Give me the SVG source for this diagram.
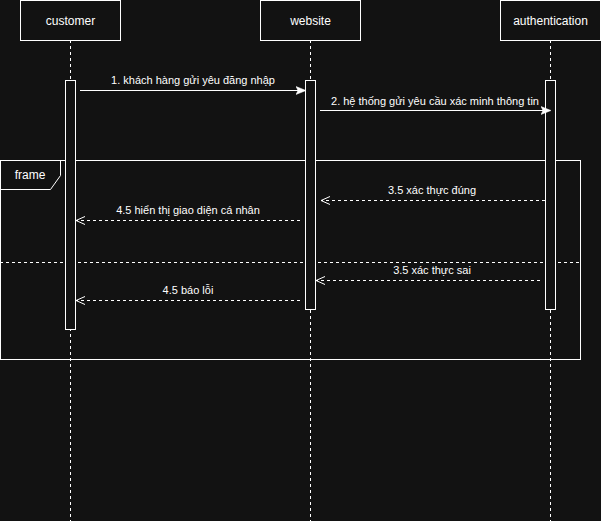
<svg xmlns="http://www.w3.org/2000/svg" width="601" height="521" viewBox="0 0 601 521">
<defs>
<style>
.bg{fill:#121212}
.box{fill:#121212;stroke:#ffffff;stroke-width:1}
.life{stroke:#ffffff;stroke-width:1;stroke-dasharray:3 3;fill:none}
.act{fill:#121212;stroke:#ffffff;stroke-width:1}
.msg{stroke:#ffffff;stroke-width:1;fill:none}
.ret{stroke:#ffffff;stroke-width:1;fill:none;stroke-dasharray:3 3}
.t{font-family:"Liberation Sans",Arial,sans-serif;font-size:12px;fill:#ffffff;text-anchor:middle}
.m{font-family:"Liberation Sans",Arial,sans-serif;font-size:11px;fill:#ffffff;text-anchor:middle}
</style>
<marker id="fill" viewBox="0 0 10 10" refX="9" refY="5" markerWidth="10" markerHeight="10" markerUnits="userSpaceOnUse" orient="auto">
<path d="M0,1 L10,5 L0,9 L2,5 Z" fill="#ffffff" stroke="#ffffff" stroke-width="0.5"/>
</marker>
<marker id="open" viewBox="0 0 10 10" refX="9" refY="5" markerWidth="10" markerHeight="10" markerUnits="userSpaceOnUse" orient="auto">
<path d="M0,1 L9,5 L0,9" fill="none" stroke="#ffffff" stroke-width="1"/>
</marker>
</defs>
<rect class="bg" x="0" y="0" width="601" height="521"/>
<g id="frame">
<rect x="0.5" y="160.5" width="580" height="199" fill="none" stroke="#ffffff"/>
<path d="M0.5,160.5 L60.5,160.5 L60.5,175.5 L50.5,189.5 L0.5,189.5" fill="none" stroke="#ffffff"/>
<text class="t" x="30" y="179">frame</text>
<line x1="0" y1="262.5" x2="580" y2="262.5" class="ret"/>
</g>
<g id="customer">
<line class="life" x1="70.5" y1="40" x2="70.5" y2="521"/>
<rect class="box" x="20.5" y="0.5" width="100" height="40"/>
<text class="t" x="70.5" y="24.5">customer</text>
<rect class="act" x="65.5" y="80.5" width="10" height="249"/>
</g>
<g id="website">
<line class="life" x1="310.5" y1="40" x2="310.5" y2="521"/>
<rect class="box" x="260.5" y="0.5" width="100" height="40"/>
<text class="t" x="310.5" y="24.5">website</text>
<rect class="act" x="305.5" y="80.5" width="10" height="229"/>
</g>
<g id="authentication">
<line class="life" x1="550.5" y1="40" x2="550.5" y2="521"/>
<rect class="box" x="500.5" y="0.5" width="100" height="40"/>
<text class="t" x="550.5" y="24.5">authentication</text>
<rect class="act" x="545.5" y="80.5" width="10" height="229"/>
</g>
<g id="connectors">
<line class="msg" x1="80" y1="90.5" x2="305" y2="90.5" marker-end="url(#fill)"/>
<text class="m" x="193" y="84">1. khách hàng gửi yêu đăng nhập</text>
<line class="msg" x1="320" y1="110.5" x2="550" y2="110.5" marker-end="url(#fill)"/>
<text class="m" x="435" y="105">2. hệ thống gửi yêu cầu xác minh thông tin</text>
<line class="ret" x1="545" y1="200.5" x2="321" y2="200.5" marker-end="url(#open)"/>
<text class="m" x="432" y="194">3.5 xác thực đúng</text>
<line class="ret" x1="300" y1="220.5" x2="76" y2="220.5" marker-end="url(#open)"/>
<text class="m" x="188" y="214">4.5 hiển thị giao diện cá nhân</text>
<line class="ret" x1="540" y1="280.5" x2="316" y2="280.5" marker-end="url(#open)"/>
<text class="m" x="432" y="274">3.5 xác thực sai</text>
<line class="ret" x1="300" y1="300.5" x2="76" y2="300.5" marker-end="url(#open)"/>
<text class="m" x="188" y="294">4.5 báo lỗi</text>
</g>
</svg>
